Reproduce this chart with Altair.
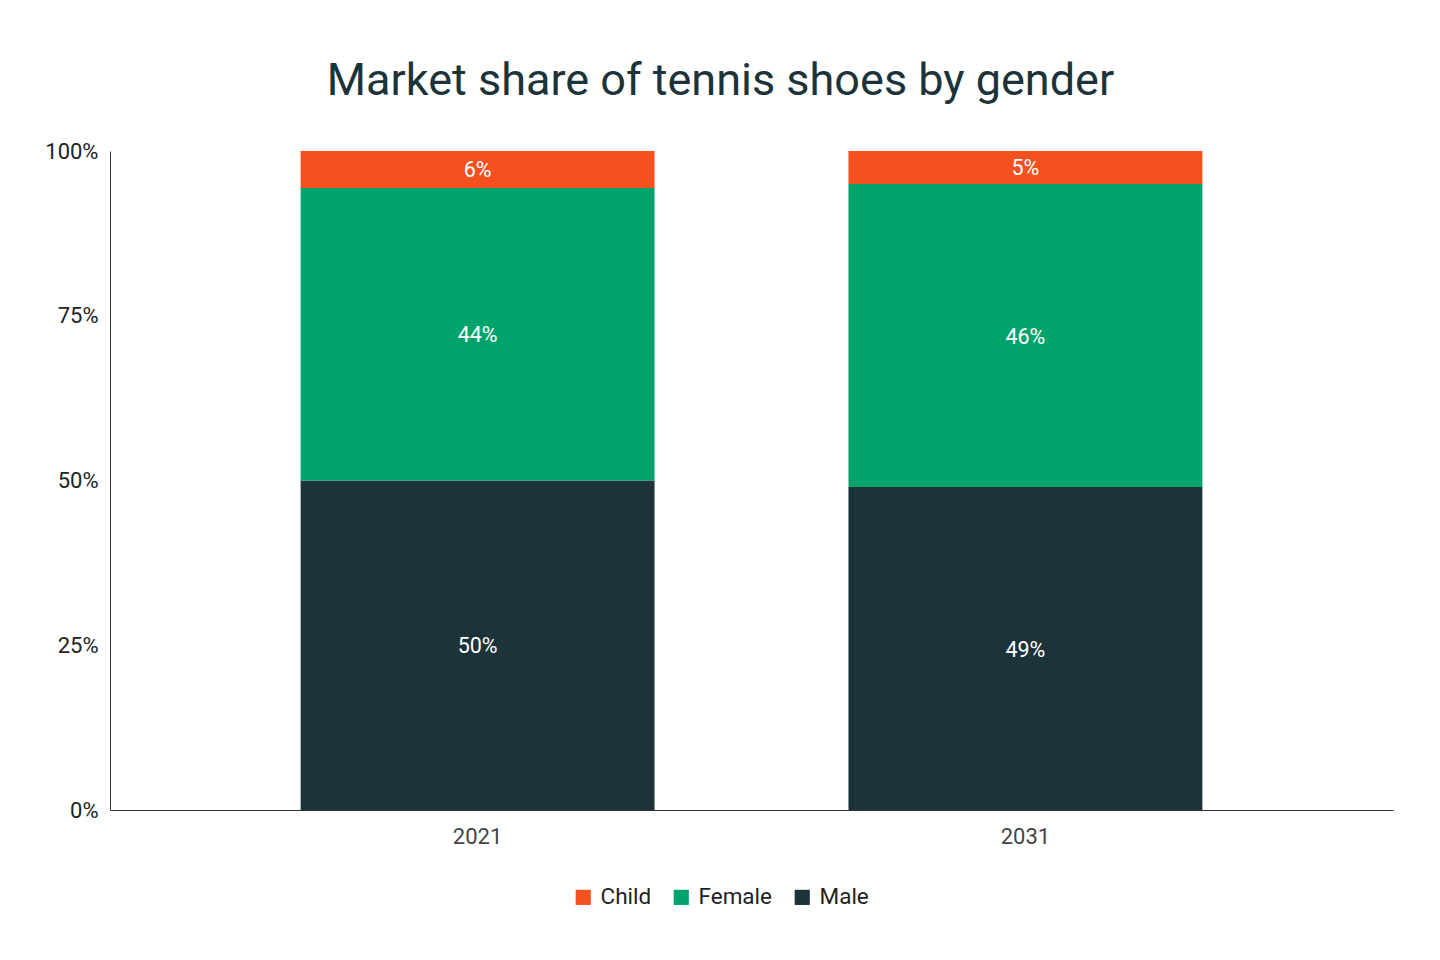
import altair as alt
import pandas as pd

years = ["2021", "2031"]
genders = ["Male", "Female", "Child"]
male = [50.0, 49.0]
female = [44.4, 46.0]
child = [5.6, 5.0]

series = {"Male": male, "Female": female, "Child": child}
rows = []
for gi, g in enumerate(genders):
    for yi, yr in enumerate(years):
        rows.append({"year": yr, "gender": g, "value": series[g][yi], "order": gi})
df = pd.DataFrame(rows)

FONT = "Roboto"
color_scale = alt.Scale(domain=["Child", "Female", "Male"],
                        range=["#F4511E", "#00A36C", "#1C333A"])

base = alt.Chart(df).transform_stack(
    stack="value", groupby=["year"], as_=["v0", "v1"],
    sort=[alt.SortField("order", order="ascending")]
).transform_calculate(mid="(datum.v0 + datum.v1) / 2")

x_enc = alt.X("year:N",
              scale=alt.Scale(paddingInner=0.354, paddingOuter=0.348),
              axis=alt.Axis(title=None, labelAngle=0, ticks=False,
                            labelFontSize=22, labelColor="#444444",
                            labelPadding=16, domainColor="#333333",
                            labelFont=FONT))

bars = base.mark_bar().encode(
    x=x_enc,
    y=alt.Y("v0:Q", scale=alt.Scale(domain=[0, 100]),
            axis=alt.Axis(title=None, values=[0, 25, 50, 75, 100],
                          labelExpr="datum.value + '%'", grid=False,
                          ticks=False, labelPadding=12, labelFontSize=22,
                          labelColor="#222222", domainColor="#333333",
                          labelFont=FONT)),
    y2="v1:Q",
    color=alt.Color("gender:N", scale=color_scale,
                    sort=["Child", "Female", "Male"],
                    legend=alt.Legend(title=None, orient="none",
                                      direction="horizontal",
                                      legendX=462, legendY=735,
                                      symbolType="square", symbolSize=230,
                                      labelFontSize=22.5, labelFont=FONT,
                                      labelColor="#222222", labelOffset=6,
                                      columnPadding=18, symbolStrokeWidth=0)),
)

labels = base.mark_text(color="white", fontSize=21.5, font=FONT,
                        baseline="middle", dy=2).encode(
    x=alt.X("year:N"),
    y=alt.Y("mid:Q"),
    text=alt.Text("label:N"),
).transform_calculate(label="round(datum.value) + '%'")

chart = alt.layer(bars, labels).properties(
    width=1283, height=659,
    title=alt.TitleParams("Market share of tennis shoes by gender",
                          fontSize=45, font=FONT, fontWeight="normal",
                          color="#1C333A", offset=36, dx=-31),
    autosize=alt.AutoSizeParams(type="none"),
    padding={"left": 102, "top": 143, "right": 39, "bottom": 142},
).configure_view(stroke=None)

chart.save("out.html", embed_options={"renderer": "svg", "actions": False})
